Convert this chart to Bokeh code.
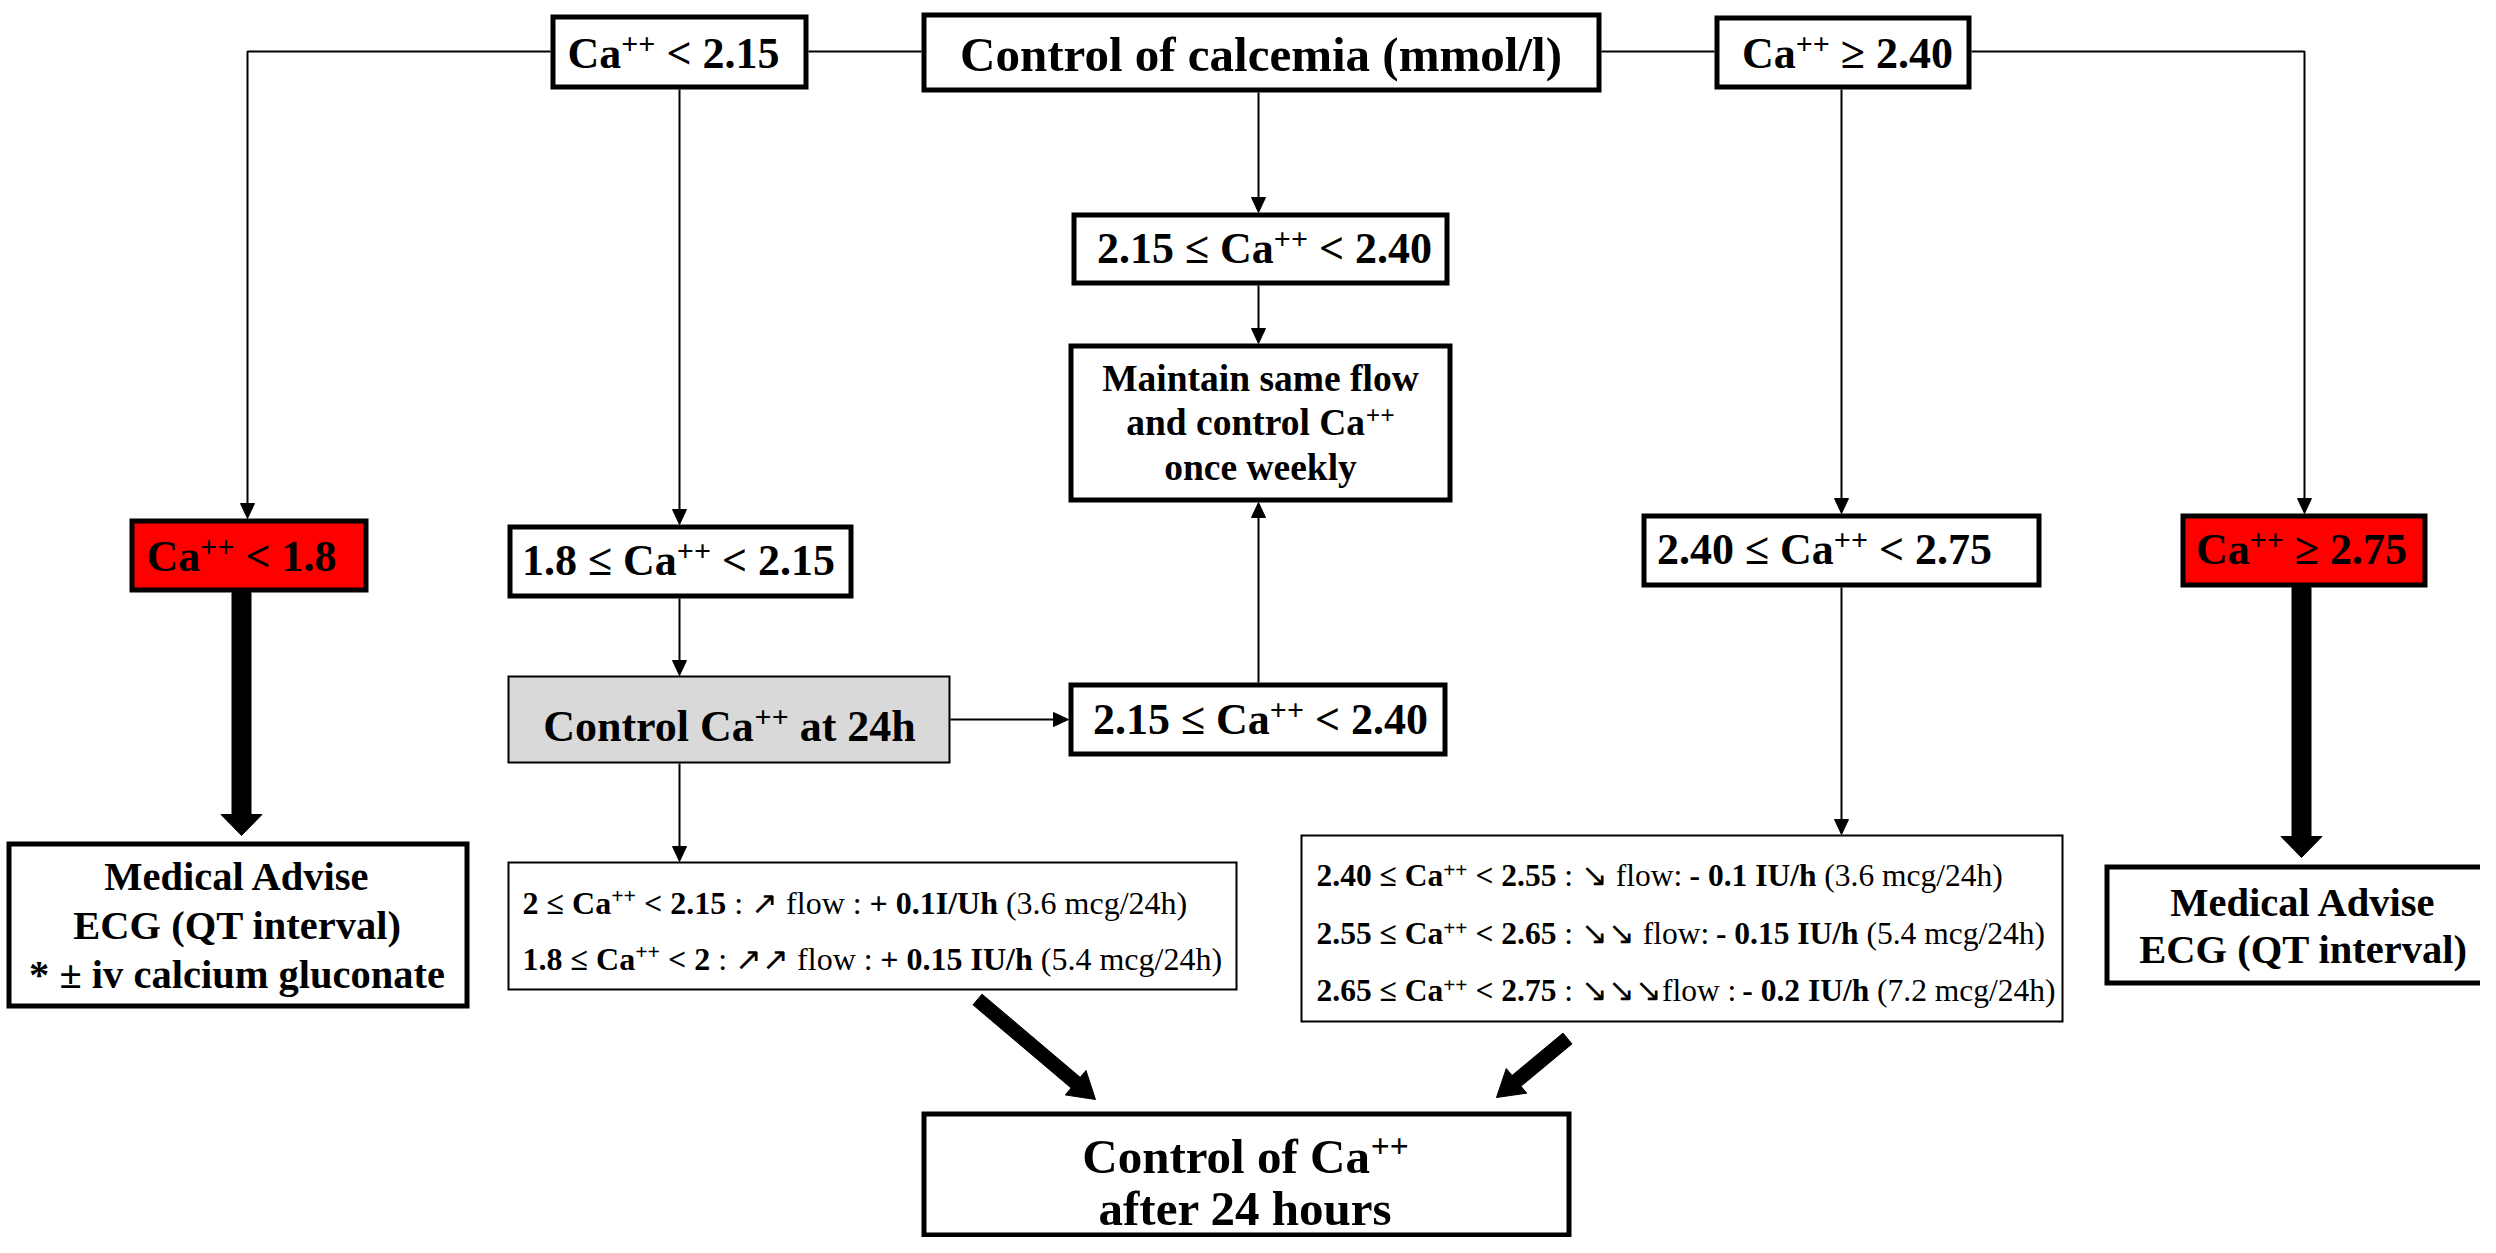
import math
from bokeh.plotting import figure
from bokeh.models import Range1d
from bokeh.embed import file_html
from bokeh.resources import INLINE
from bokeh.core.properties import value

# ---------------- content (texts) ----------------
SUPER = "++"
TOP_LEFT = [("Ca", "b"), (SUPER, "bs"), (" < 2.15", "b")]
TITLE = [("Control of calcemia (mmol/l)", "b")]
TOP_RIGHT = [("Ca", "b"), (SUPER, "bs"), (" ≥ 2.40", "b")]
NORMAL_RANGE = [("2.15 ≤ Ca", "b"), (SUPER, "bs"), (" < 2.40", "b")]
MAINTAIN = [[("Maintain same flow", "b")],
            [("and control Ca", "b"), (SUPER, "bs")],
            [("once weekly", "b")]]
SEVERE_LOW = [("Ca", "b"), (SUPER, "bs"), (" < 1.8", "b")]
MILD_LOW = [("1.8 ≤ Ca", "b"), (SUPER, "bs"), (" < 2.15", "b")]
MILD_HIGH = [("2.40 ≤ Ca", "b"), (SUPER, "bs"), (" < 2.75", "b")]
SEVERE_HIGH = [("Ca", "b"), (SUPER, "bs"), (" ≥ 2.75", "b")]
CONTROL_24H = [("Control Ca", "b"), (SUPER, "bs"), (" at 24h", "b")]
ADVICE_LOW = [[("Medical Advise", "b")], [("ECG (QT interval)", "b")],
              [("* ± iv calcium gluconate", "b")]]
ADVICE_HIGH = [[("Medical Advise", "b")], [("ECG (QT interval)", "b")]]
INCREASE_RULES = [
    [("2 ≤ Ca", "b"), (SUPER, "bs"), (" < 2.15", "b"), (" : ↗ flow : ", "r"),
     ("+ 0.1I/Uh", "b"), (" (3.6 mcg/24h)", "r")],
    [("1.8 ≤ Ca", "b"), (SUPER, "bs"), (" < 2", "b"), (" : ↗↗ flow : ", "r"),
     ("+ 0.15 IU/h", "b"), (" (5.4 mcg/24h)", "r")],
]
DECREASE_RULES = [
    [("2.40 ≤ Ca", "b"), (SUPER, "bs"), (" < 2.55", "b"), (" : ↘ flow: ", "r"),
     ("- 0.1 IU/h", "b"), (" (3.6 mcg/24h)", "r")],
    [("2.55 ≤ Ca", "b"), (SUPER, "bs"), (" < 2.65", "b"), (" : ↘↘ flow: ", "r"),
     ("- 0.15 IU/h", "b"), (" (5.4 mcg/24h)", "r")],
    [("2.65 ≤ Ca", "b"), (SUPER, "bs"), (" < 2.75", "b"), (" : ↘↘↘flow : ", "r"),
     ("- 0.2 IU/h", "b"), (" (7.2 mcg/24h)", "r")],
]
FINAL = [[("Control of Ca", "b"), (SUPER, "bs")], [("after 24 hours", "b")]]

# ---------------- layout ----------------
PW, PH = 2480, 1237          # data units == reference pixels
FONT = "Liberation Serif"
SUP_SCALE = 0.68
SUP_RAISE = 0.31
BASE_SHIFT = 0.335   # renderer centres the text box on y: move anchor up to sit on baseline
RED = "#FF0000"
GREY = "#D9D9D9"
THICK = 5
THIN = 2

REG = {' ': 250, '(': 333, ')': 333, '+': 564, '-': 333, '.': 250, '/': 278, ':': 278,
       '<': 564, '≤': 549, '≥': 549, '±': 564, '*': 500, '↗': 838, '↘': 838,
       'C': 667, 'I': 333, 'U': 722, 'a': 444, 'c': 444, 'f': 333, 'g': 500,
       'h': 500, 'l': 278, 'm': 778, 'o': 500, 'w': 722}
BOLD = {' ': 250, '(': 333, ')': 333, '+': 570, '-': 333, '.': 250, '/': 278, ':': 333,
        '<': 570, '≤': 549, '≥': 549, '±': 570, '*': 500, '↗': 838, '↘': 838,
        'A': 722, 'C': 722, 'E': 667, 'G': 778, 'I': 389, 'M': 944, 'Q': 778,
        'T': 667, 'U': 722, 'a': 500, 'c': 444, 'd': 556, 'e': 444, 'f': 333,
        'g': 500, 'h': 556, 'i': 278, 'k': 556, 'l': 278, 'm': 833, 'n': 556,
        'o': 500, 'r': 444, 's': 389, 't': 333, 'u': 556, 'v': 500, 'w': 722,
        'y': 500}


def tw(s, kind, size):
    table = BOLD if kind.startswith("b") else REG
    sc = SUP_SCALE if kind.endswith("s") else 1.0
    return sum(table.get(ch, 500) for ch in s) / 1000.0 * size * sc


p = figure(width=PW, height=PH,
           x_range=Range1d(0, PW), y_range=Range1d(PH, 0),
           output_backend="svg", toolbar_location=None, min_border=0,
           x_axis_type=None, y_axis_type=None)
p.outline_line_color = None
p.background_fill_color = "white"
p.border_fill_color = "white"

# boxes: outer edges (left, right, top, bottom), fill, border width
BOXES = [
    (550, 808, 14, 89, "white", THICK),      # Ca < 2.15
    (921, 1601, 12, 92, "white", THICK),     # title
    (1714, 1971, 15, 89, "white", THICK),    # Ca >= 2.40
    (1071, 1449, 212, 285, "white", THICK),  # 2.15-2.40 (top)
    (1068, 1452, 343, 502, "white", THICK),  # maintain
    (129, 368, 518, 592, RED, THICK),        # Ca < 1.8
    (507, 853, 524, 598, "white", THICK),    # 1.8-2.15
    (1641, 2041, 513, 587, "white", THICK),  # 2.40-2.75
    (2180, 2427, 513, 587, RED, THICK),      # Ca >= 2.75
    (507, 950, 675, 763, GREY, THIN),        # control at 24h
    (1068, 1447, 682, 756, "white", THICK),  # 2.15-2.40 (lower)
    (6, 469, 841, 1008, "white", THICK),     # medical advise left
    (507, 1237, 861, 990, "white", THIN),    # increase rules
    (1300, 2063, 834, 1022, "white", THIN),  # decrease rules
    (2104, 2505, 864, 985, "white", THICK),  # medical advise right
    (921, 1571, 1111, 1237, "white", THICK), # final
]

for (l, r, t, b, fill, lw) in BOXES:
    h = lw / 2
    p.quad(left=l + h, right=r - h, top=t + h, bottom=b - h,
           fill_color=fill, line_color="black", line_width=lw, line_join="miter")

# ---------------- connectors ----------------
line_xs, line_ys, head_xs, head_ys = [], [], [], []


def thin_arrow(pts, head=True, hl=15, hw=14):
    xs = [q[0] for q in pts]
    ys = [q[1] for q in pts]
    if head:
        (x0, y0), (x1, y1) = pts[-2], pts[-1]
        L = math.hypot(x1 - x0, y1 - y0)
        ux, uy = (x1 - x0) / L, (y1 - y0) / L
        bx, by = x1 - ux * hl, y1 - uy * hl
        xs[-1], ys[-1] = bx, by
        px, py = -uy, ux
        head_xs.append([x1, bx + px * hw / 2, bx - px * hw / 2])
        head_ys.append([y1, by + py * hw / 2, by - py * hw / 2])
    line_xs.append(xs)
    line_ys.append(ys)


thin_arrow([(550, 51), (247, 51), (247, 518)])
thin_arrow([(808, 51), (921, 51)], head=False)
thin_arrow([(1601, 51), (1714, 51)], head=False)
thin_arrow([(1971, 51), (2304, 51), (2304, 513)])
thin_arrow([(679, 89), (679, 524)])
thin_arrow([(1258, 92), (1258, 212)])
thin_arrow([(1258, 285), (1258, 343)])
thin_arrow([(1841, 89), (1841, 513)])
thin_arrow([(679, 598), (679, 675)])
thin_arrow([(950, 719), (1068, 719)])
thin_arrow([(1258, 682), (1258, 502)])
thin_arrow([(679, 763), (679, 861)])
thin_arrow([(1841, 587), (1841, 834)])

p.multi_line(xs=line_xs, ys=line_ys, line_color="black", line_width=THIN)
p.patches(xs=head_xs, ys=head_ys, fill_color="black", line_color="black", line_width=1)

big_xs, big_ys = [], []


def block_arrow(x0, y0, x1, y1, sw, hw, hl):
    L = math.hypot(x1 - x0, y1 - y0)
    ux, uy = (x1 - x0) / L, (y1 - y0) / L
    px, py = -uy, ux
    bx, by = x1 - ux * hl, y1 - uy * hl
    s, h = sw / 2, hw / 2
    pts = [(x0 + px * s, y0 + py * s), (bx + px * s, by + py * s), (bx + px * h, by + py * h),
           (x1, y1), (bx - px * h, by - py * h), (bx - px * s, by - py * s),
           (x0 - px * s, y0 - py * s)]
    big_xs.append([q[0] for q in pts])
    big_ys.append([q[1] for q in pts])


block_arrow(241, 592, 241, 835, 19, 41, 21)
block_arrow(2301, 587, 2301, 857, 19, 41, 21)
block_arrow(977, 999, 1095, 1099, 14, 32, 26)
block_arrow(1567, 1038, 1496, 1097, 14, 32, 26)
p.patches(xs=big_xs, ys=big_ys, fill_color="black", line_color="black", line_width=1)

# ---------------- texts ----------------
groups = {}


def add_run(x, y, txt, size, style):
    g = groups.setdefault((size, style), {"x": [], "y": [], "text": []})
    g["x"].append(x)
    g["y"].append(y)
    g["text"].append(txt)


def place_line(runs, x, base, size, align="center"):
    total = sum(tw(t, k, size) for t, k in runs)
    if align == "center":
        x -= total / 2
    for t, k in runs:
        lead = len(t) - len(t.lstrip(" "))
        body = t.strip(" ")
        sup = k.endswith("s")
        fs = round(size * SUP_SCALE, 1) if sup else size
        yy = base - SUP_RAISE * size if sup else base
        yy -= BASE_SHIFT * fs
        if body:
            add_run(x + tw(t[:lead], k, size), yy, body, fs,
                    "bold" if k.startswith("b") else "normal")
        x += tw(t, k, size)


def place_block(lines, x, bases, size, align="center"):
    for runs, b in zip(lines, bases):
        place_line(runs, x, b, size, align)


place_line(TOP_LEFT, 673, 68, 44)
place_line(TITLE, 1261, 70, 49)
place_line(TOP_RIGHT, 1847, 68, 44)
place_line(NORMAL_RANGE, 1264, 263, 44)
place_block(MAINTAIN, 1260, [391, 435, 480], 37.5)
place_line(SEVERE_LOW, 241, 571, 44)
place_line(MILD_LOW, 678, 575, 44)
place_line(MILD_HIGH, 1824, 564, 44)
place_line(SEVERE_HIGH, 2301, 564, 44)
place_line(CONTROL_24H, 729, 741, 44)
place_line(NORMAL_RANGE, 1260, 734, 44)
place_block(ADVICE_LOW, 237, [890, 939, 988], 40.5)
place_block(ADVICE_HIGH, 2303, [916, 963], 40.5)
place_block(INCREASE_RULES, 522, [913, 969], 32, align="left")
place_block(DECREASE_RULES, 1316, [886, 944, 1001], 31.5, align="left")
place_block(FINAL, 1245, [1172, 1224], 49)

for (size, style), g in groups.items():
    p.text(x=g["x"], y=g["y"], text=g["text"], text_font=value(FONT),
           text_font_size=value(f"{size}px"), text_font_style=value(style),
           text_align="left", text_baseline="alphabetic", text_color="black")

open("out.html", "w").write(file_html(p, INLINE))
